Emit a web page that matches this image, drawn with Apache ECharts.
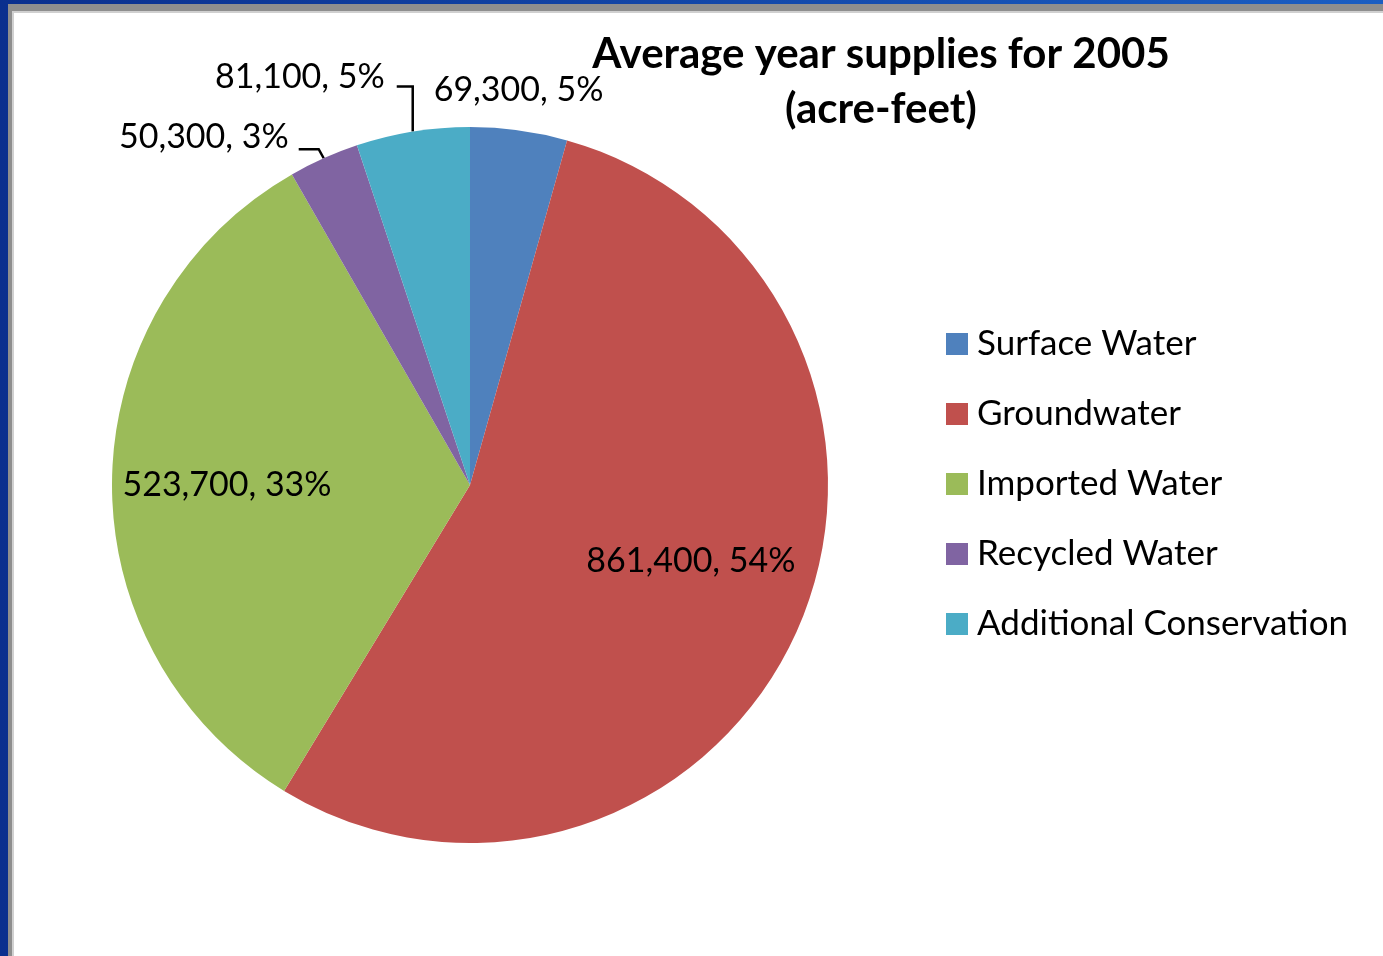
<!DOCTYPE html>
<html>
<head>
<meta charset="utf-8">
<script src="https://cdn.jsdelivr.net/npm/echarts@6/dist/echarts.min.js"></script>
<style>
  html, body { margin: 0; padding: 0; width: 1383px; height: 956px; overflow: hidden;
    background: linear-gradient(90deg, #0a2f8e 0%, #1b5ec2 100%); }
  #frame { position: absolute; left: 8px; top: 4px; right: 0; bottom: 0; background: #fff;
    border-left: 4px solid #8e8e8e; border-top: 7px solid #8e8e8e;
    box-shadow: inset 2px 2px 0 #d0d0d0; }
  #chart { position: absolute; left: 0; top: 0; width: 1383px; height: 956px; }
</style>
</head>
<body>
<div id="frame"></div>
<div id="chart"></div>
<script>
// Average year supplies for 2005, acre-feet
const categories = ['Surface Water', 'Groundwater', 'Imported Water', 'Recycled Water', 'Additional Conservation'];
const supplies = [69300, 861400, 523700, 50300, 81100];
const percentLabels = [5, 54, 33, 3, 5];
const palette = ['#4f81bd', '#c0504d', '#9bbb59', '#8064a2', '#4bacc6'];

const FONT = 'Lato, "Open Sans", sans-serif';
const fmt = v => v.toLocaleString('en-US');

const insideItems = { 1: true, 2: true };

const chart = echarts.init(document.getElementById('chart'), null, { renderer: 'canvas' });

chart.setOption({
  animation: false,
  backgroundColor: 'transparent',
  color: palette,
  title: {
    text: 'Average year supplies for 2005\n(acre-feet)',
    left: 881,
    top: 27,
    padding: 0,
    textAlign: 'center',
    textStyle: { fontFamily: FONT, fontWeight: 'bold', fontSize: 42, lineHeight: 55, color: '#000' }
  },
  legend: {
    orient: 'vertical',
    left: 946,
    top: 326,
    padding: 0,
    itemWidth: 22,
    itemHeight: 22,
    itemGap: 34,
    icon: 'rect',
    selectedMode: false,
    data: categories,
    textStyle: { fontFamily: FONT, fontSize: 35, lineHeight: 36, color: '#000', padding: [0, 0, 0, 4] }
  },
  series: [{
    type: 'pie',
    center: [470, 485],
    radius: 358,
    startAngle: 90,
    clockwise: true,
    avoidLabelOverlap: false,
    itemStyle: { borderWidth: 0 },
    label: {
      show: true,
      position: 'outside',
      fontFamily: FONT,
      fontSize: 34,
      color: '#000',
      formatter: p => fmt(supplies[p.dataIndex]) + ', ' + percentLabels[p.dataIndex] + '%'
    },
    labelLine: { show: true, length: 40, length2: 15, lineStyle: { color: '#000', width: 2.5 } },
    labelLayout: function (p) {
      const i = p.dataIndex;
      if (i === 0) {
        // small slice at the top: label sits just above the arc, no leader
        return { x: p.rect.x + p.rect.width / 2, y: p.rect.y - 37, align: 'center', verticalAlign: 'middle' };
      }
      if (i === 1) return { dx: 54, dy: 3 };
      if (i === 2) return { dx: -61, dy: 2 };
      const e = p.labelLinePoints[0];
      if (i === 4) {
        const bend = [e[0], e[1] - 45];
        const end = [e[0] - 16, e[1] - 45];
        return { x: end[0] - 12, y: end[1] - 10, align: 'right', verticalAlign: 'middle',
          labelLinePoints: [e, bend, end] };
      }
      const bend = [e[0] - 5, e[1] - 9];
      const end = [e[0] - 25, e[1] - 9];
      return { x: end[0] - 10, y: end[1] - 12, align: 'right', verticalAlign: 'middle',
        labelLinePoints: [e, bend, end] };
    },
    data: categories.map((name, i) => ({
      name: name,
      value: supplies[i],
      label: insideItems[i] ? { position: 'inside' } : undefined,
      labelLine: i === 0 ? { show: false } : undefined
    }))
  }]
});
</script>
</body>
</html>
